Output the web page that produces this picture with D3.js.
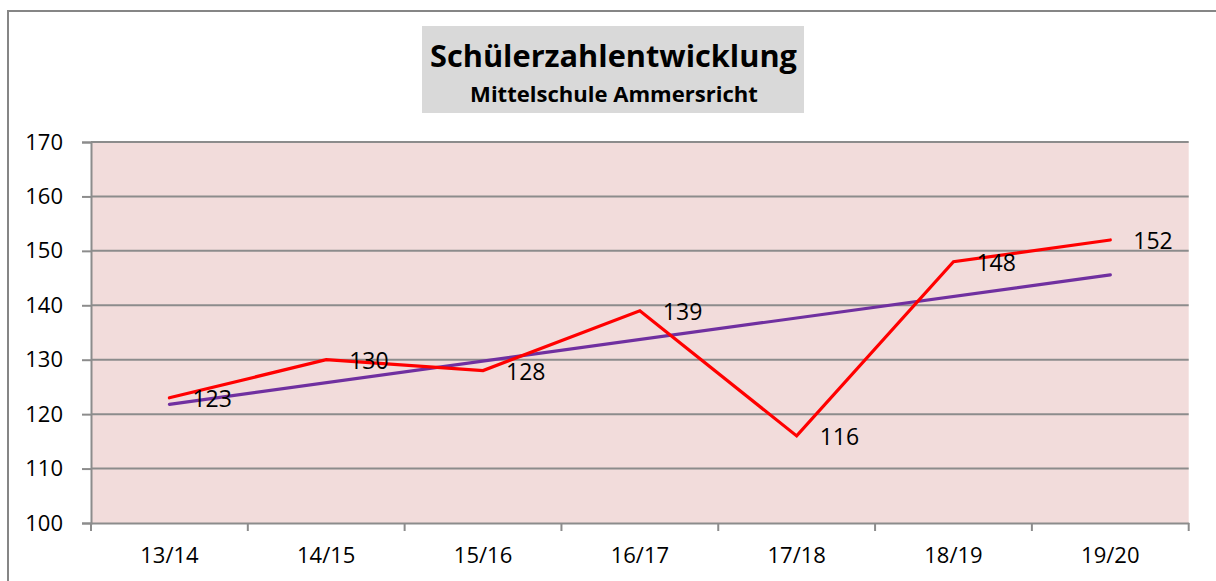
<!DOCTYPE html>
<html><head><meta charset="utf-8">
<script src="https://cdn.jsdelivr.net/npm/d3@7/dist/d3.min.js"></script>
<style>body{margin:0;background:#fff}svg{display:block}</style>
</head><body><svg id="c" width="1216" height="581"></svg>
<script>
const categories = ["13/14","14/15","15/16","16/17","17/18","18/19","19/20"];
const values = [123,130,128,139,116,148,152];
const trendCategories = ["13/14","19/20"];
const trendValues = [121.8,145.6];
const yTicks = [100,110,120,130,140,150,160,170];
const titleText = "Schülerzahlentwicklung";
const subtitleText = "Mittelschule Ammersricht";

const svg = d3.select("#c");
const FONT = "'Open Sans', 'Noto Sans', sans-serif";
const L = 91, R = 1188.7, T = 142, B = 523;

svg.append("rect").attr("x",8).attr("y",11).attr("width",1300).attr("height",700)
  .attr("fill","#fff").attr("stroke","#868686").attr("stroke-width",2);

// title box
svg.append("rect").attr("x",422).attr("y",26).attr("width",382).attr("height",87).attr("fill","#d9d9d9");
function fitText(sel, w){ const n=sel.node(); const cur=n.getComputedTextLength(); const fs=parseFloat(sel.attr("font-size")); sel.attr("font-size", fs*w/cur); }
const t1 = svg.append("text").attr("x",613.5).attr("y",67).attr("text-anchor","middle")
  .attr("font-family",FONT).attr("font-weight","bold").attr("font-size",30).attr("fill","#000").text(titleText);
fitText(t1,367);
const t2 = svg.append("text").attr("x",614).attr("y",102).attr("text-anchor","middle")
  .attr("font-family",FONT).attr("font-weight","bold").attr("font-size",20).attr("fill","#000").text(subtitleText);
fitText(t2,288);

const x = d3.scaleBand().domain(categories).range([L,R]);
const y = d3.scaleLinear().domain([100,170]).range([B,T]);

svg.append("rect").attr("x",L).attr("y",T).attr("width",R-L).attr("height",B-T).attr("fill","#f2dcdb");

// gridlines
svg.append("g").selectAll("line").data(yTicks.filter(d=>d>100)).join("line")
  .attr("x1",L).attr("x2",R).attr("y1",d=>y(d)).attr("y2",d=>y(d))
  .attr("stroke","#8c8c8c").attr("stroke-width",2);

// y axis
const ya = svg.append("g").attr("transform",`translate(${L},0)`)
  .call(d3.axisLeft(y).tickValues(yTicks).tickSize(9).tickPadding(19).tickFormat(d3.format("d")));
ya.select(".domain").attr("stroke","#8c8c8c").attr("stroke-width",2);
ya.selectAll(".tick line").attr("stroke","#8c8c8c").attr("stroke-width",2);
ya.selectAll("text").attr("font-family",FONT).attr("font-size",22).attr("fill","#000");

// x axis
const xa = svg.append("g").attr("transform",`translate(0,${B})`)
  .call(d3.axisBottom(x).tickSize(0).tickPadding(24));
xa.select(".domain").attr("stroke","#8c8c8c").attr("stroke-width",2);
xa.selectAll("text").attr("font-family",FONT).attr("font-size",22).attr("fill","#000");
const bounds = categories.map(c=>x(c)).concat([R]);
xa.selectAll(".bt").data(bounds).join("line").attr("class","bt")
  .attr("x1",d=>d).attr("x2",d=>d).attr("y1",0).attr("y2",8)
  .attr("stroke","#8c8c8c").attr("stroke-width",2);

const cx = c => x(c)+x.bandwidth()/2;

// trend line
const line = d3.line().x(d=>cx(d[0])).y(d=>y(d[1]));
svg.append("path").datum(trendCategories.map((c,i)=>[c,trendValues[i]]))
  .attr("d",line).attr("fill","none").attr("stroke","#7030a0").attr("stroke-width",3.2).attr("stroke-linecap","round");

// data line
svg.append("path").datum(categories.map((c,i)=>[c,values[i]]))
  .attr("d",line).attr("fill","none").attr("stroke","#ff0000").attr("stroke-width",3.2)
  .attr("stroke-linejoin","miter").attr("stroke-linecap","round");

// labels
svg.append("g").selectAll("text").data(categories.map((c,i)=>[c,values[i]])).join("text")
  .attr("x",d=>cx(d[0])+23).attr("y",d=>y(d[1])+9)
  .attr("font-family",FONT).attr("font-size",23).attr("fill","#000").text(d=>d[1]);
</script></body></html>
